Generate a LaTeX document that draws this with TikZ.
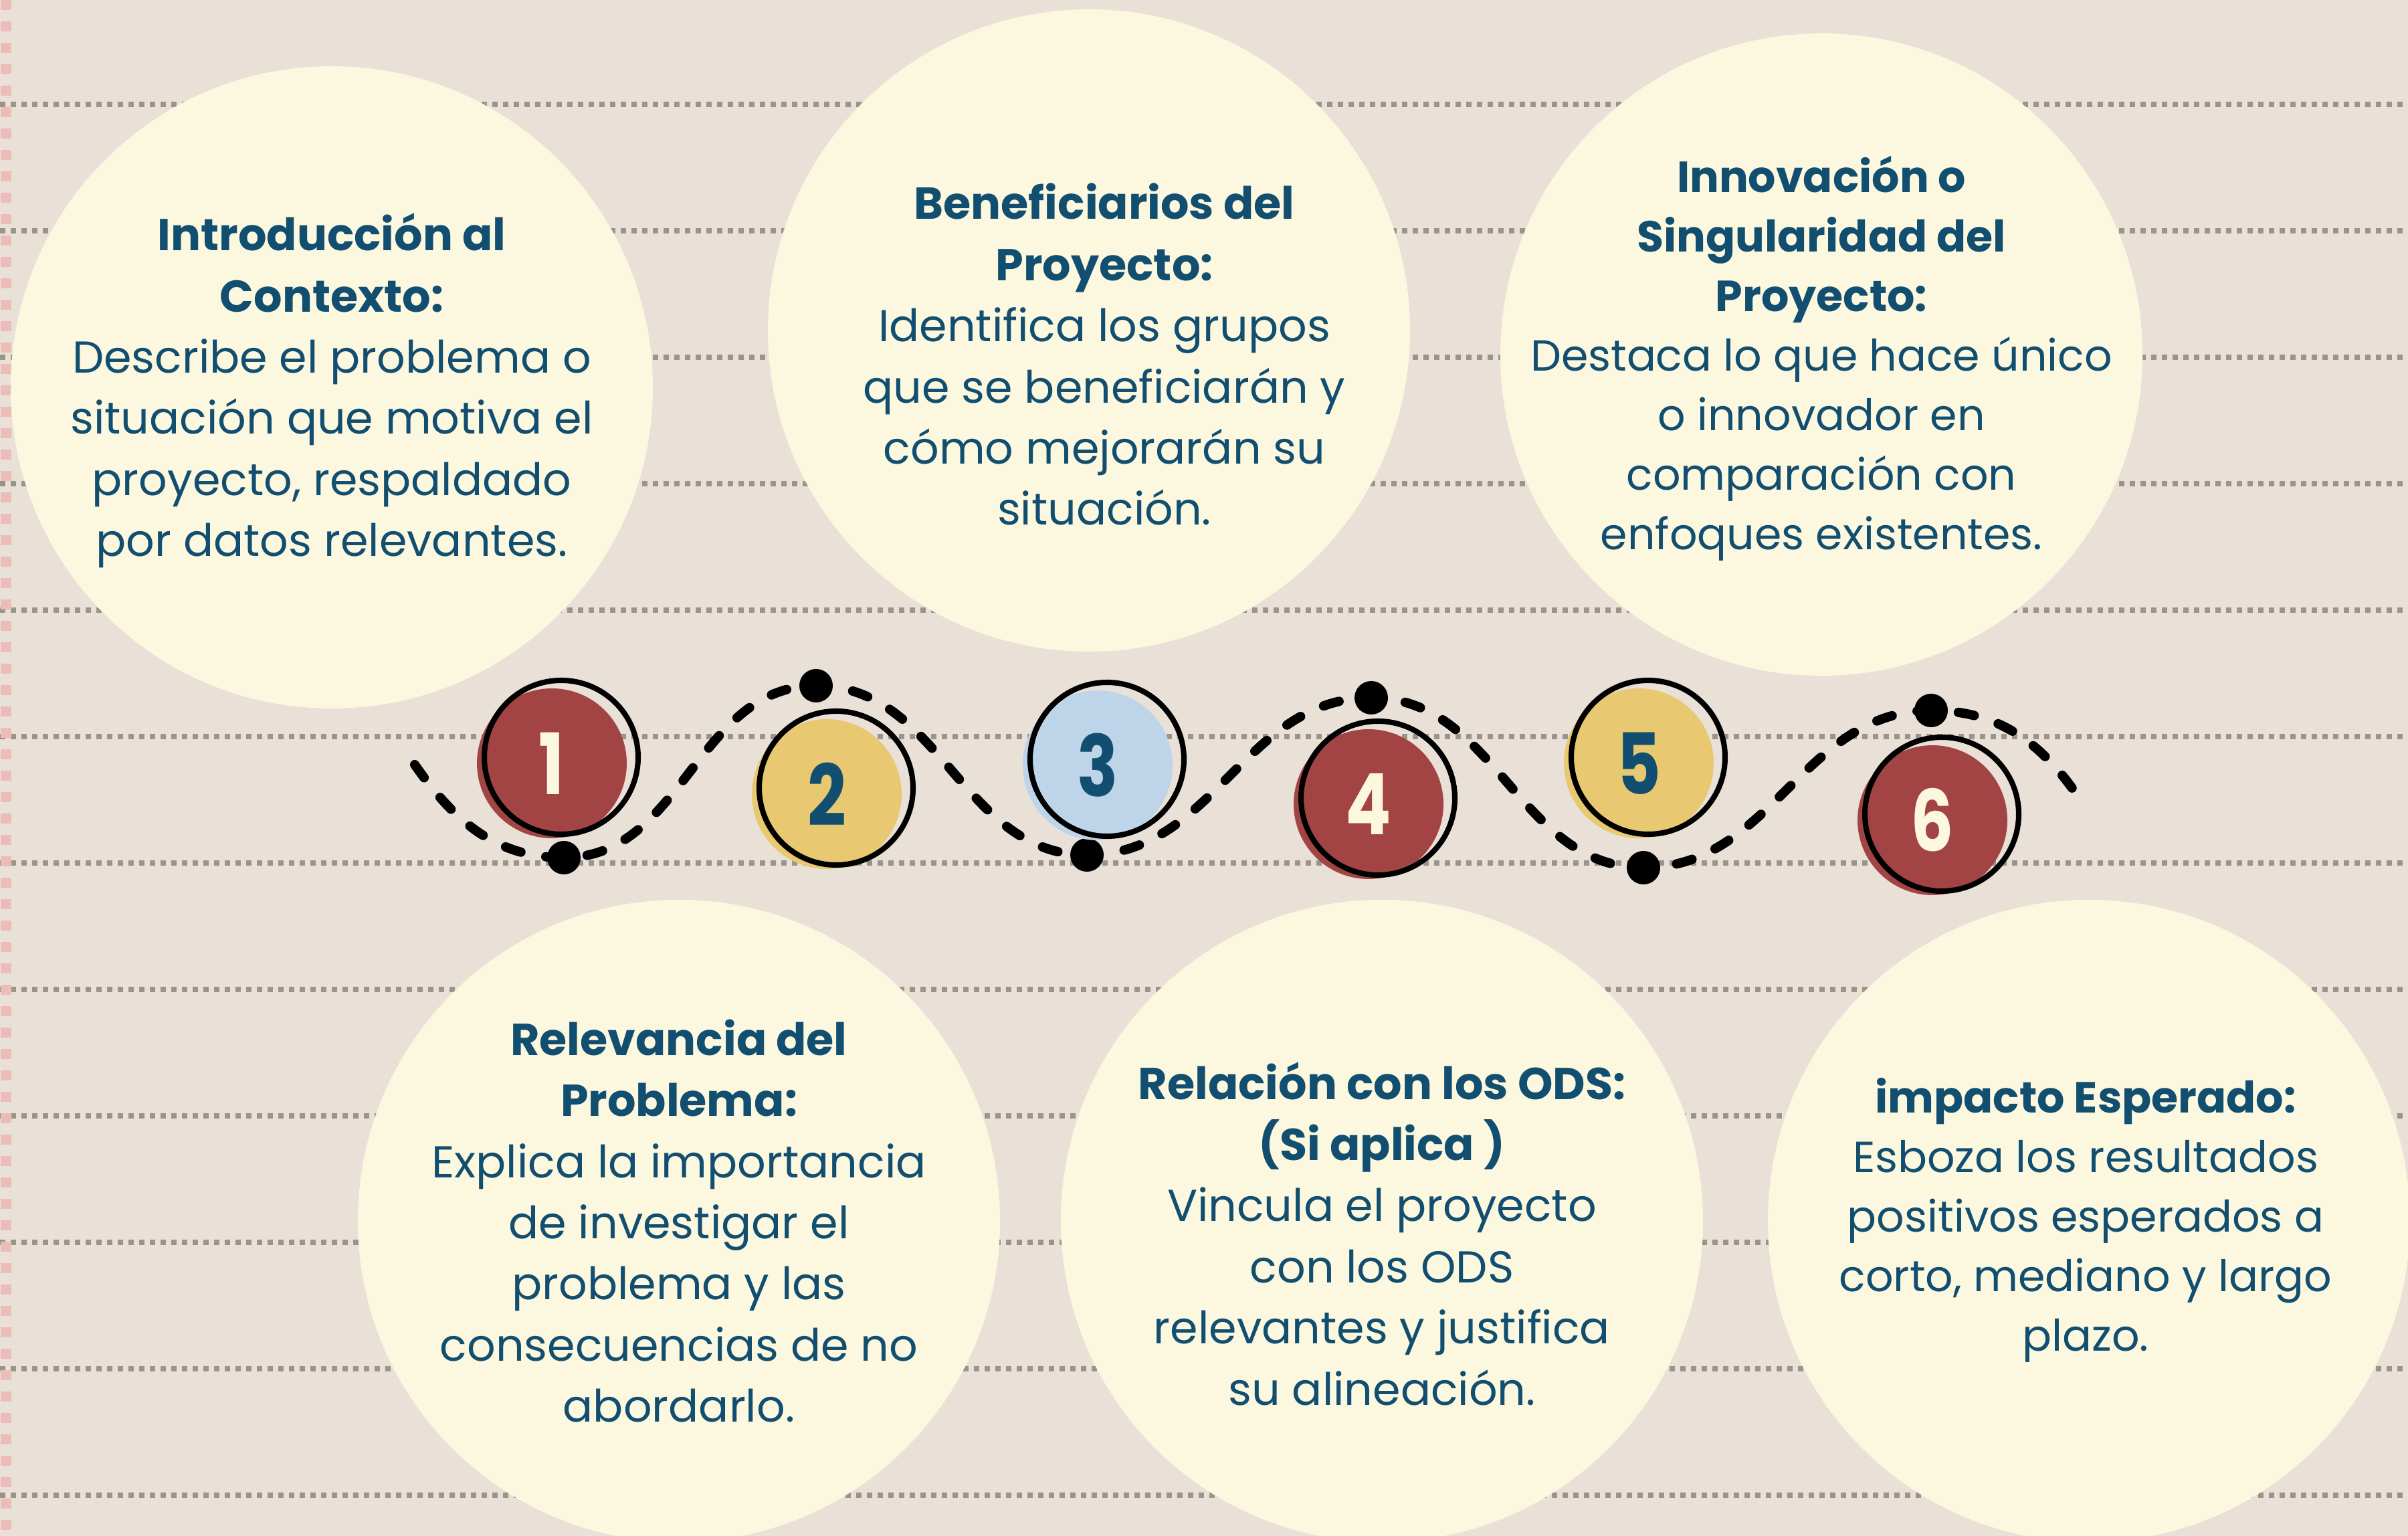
\documentclass[tikz,border=0pt]{standalone}
\usepackage{fontspec}
\setmainfont{Poppins}
\newfontfamily\numfont[FakeStretch=0.8]{Poppins}
\usetikzlibrary{positioning}
\definecolor{paperbg}{HTML}{E9E1D7}
\definecolor{creamcol}{HTML}{FCF8E0}
\definecolor{navy}{HTML}{124E6F}
\definecolor{redcol}{HTML}{A34444}
\definecolor{yellowcol}{HTML}{E8C870}
\definecolor{bluecol}{HTML}{BED5E9}
\definecolor{dotgray}{HTML}{9B948B}
\definecolor{pinkcol}{HTML}{EBBDB8}

\begin{document}
\begin{tikzpicture}[
  bigdisc/.style={circle, fill=creamcol, minimum size=9.6cm, inner sep=0pt},
  numring/.style={circle, draw=black, line width=2.3pt, minimum size=2.3cm, inner sep=0pt},
  numfill/.style={circle, minimum size=2.24cm, inner sep=0pt, font=\numfont\bfseries\fontsize{36}{36}\selectfont},
  wavedot/.style={circle, fill=black, minimum size=0.5cm, inner sep=0pt},
  wave/.style={line width=4pt, dash pattern=on 0.24cm off 0.38cm, line cap=round},
  dotline/.style={draw=dotgray, line width=0.08cm, dash pattern=on 0.08cm off 0.08cm},
  blurb/.style={align=center, text=navy, font=\fontsize{19}{26}\selectfont},
  blurbsmall/.style={blurb, font=\fontsize{18.5}{25.3}\selectfont}
]
% Paper background
\fill[paperbg] (0,0) rectangle (36,-22.96);
\useasboundingbox (0,0) rectangle (36,-22.96);

% Notebook lines
\foreach \k in {0,...,11} {
  \draw[dotline] (0,{-1.56-1.89*\k}) -- (36,{-1.56-1.89*\k});
}
\draw[draw=pinkcol, line width=0.16cm, dash pattern=on 0.15cm off 0.17cm] (0.09,0) -- (0.09,-22.96);

% Big discs
\foreach \i/\x/\y in {1/4.96/-5.79, 2/16.28/-4.94, 3/27.23/-5.30, 4/10.15/-18.25, 5/20.66/-18.25, 6/31.23/-18.25} {
  \node[bigdisc] (disc\i) at (\x,\y) {};
}

% Texts
\node[blurb] (txt1) at (4.96,-5.84) {\textbf{Introducción al}\\\textbf{Contexto:}\\Describe el problema o\\situación que motiva el\\proyecto, respaldado\\por datos relevantes.};
\node[blurb] (txt2) at (16.51,-5.30) {\textbf{Beneficiarios del}\\\textbf{Proyecto:}\\Identifica los grupos\\que se beneficiarán y\\cómo mejorarán su\\situación.};
\node[blurbsmall] (txt3) at (27.23,-5.36) {\textbf{Innovación o}\\\textbf{Singularidad del}\\\textbf{Proyecto:}\\Destaca lo que hace único\\o innovador en\\comparación con\\enfoques existentes.};
\node[blurb] (txt4) at (10.15,-18.25) {\textbf{Relevancia del}\\\textbf{Problema:}\\Explica la importancia\\de investigar el\\problema y las\\consecuencias de no\\abordarlo.};
\node[blurb] (txt5) at (20.66,-18.44) {\textbf{Relación con los ODS:}\\\textbf{(Si aplica )}\\Vincula el proyecto\\con los ODS\\relevantes y justifica\\su alineación.};
\node[blurbsmall] (txt6) at (31.18,-18.24) {\textbf{impacto Esperado:}\\Esboza los resultados\\positivos esperados a\\corto, mediano y largo\\plazo.};

% Wave with dots
\foreach \i/\x/\y in {1/8.43/-12.82, 2/12.20/-10.25, 3/16.25/-12.78, 4/20.50/-10.43, 5/24.57/-12.97, 6/28.87/-10.62} {
  \node[wavedot] (dot\i) at (\x,\y) {};
}
\coordinate (wstart) at (6.20,-11.43);
\coordinate (wend) at (31.05,-11.88);
\draw[wave] (wstart) to[out=-55,in=180] (dot1.center)
  to[out=0,in=180] (dot2.center) to[out=0,in=180] (dot3.center)
  to[out=0,in=180] (dot4.center) to[out=0,in=180] (dot5.center)
  to[out=0,in=180] (dot6.center) to[out=0,in=125] (wend);

% Numbered steps
\foreach \i/\x/\y/\col/\txt in {1/8.39/-11.32/redcol/creamcol, 2/12.50/-11.78/yellowcol/navy, 3/16.55/-11.35/bluecol/navy, 4/20.60/-11.93/redcol/creamcol, 5/24.64/-11.32/yellowcol/navy, 6/29.03/-12.17/redcol/creamcol} {
  \node[numfill, fill=\col, text=\txt] (num\i) at ({\x-0.14},{\y-0.09}) {\i};
  \node[numring] (ring\i) at (\x,\y) {};
}
\end{tikzpicture}
\end{document}
